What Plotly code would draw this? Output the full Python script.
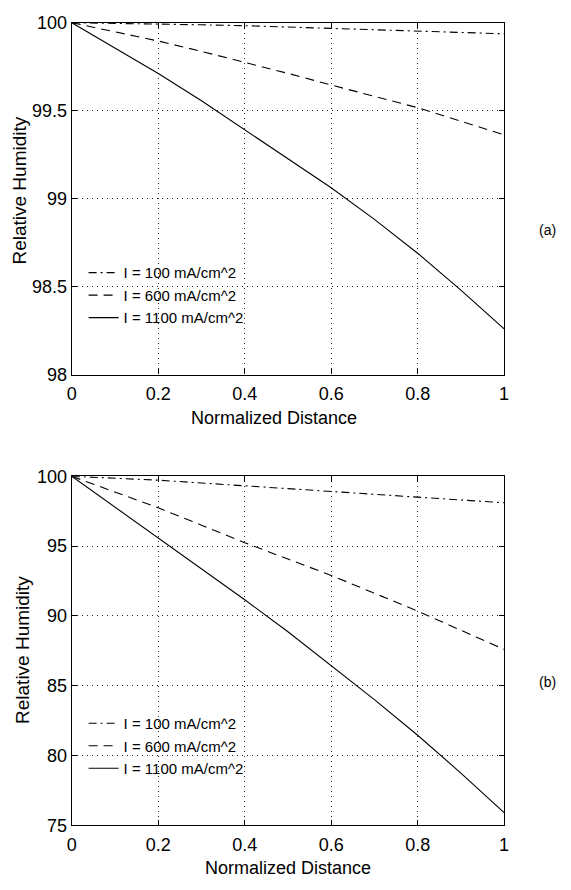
import plotly.graph_objects as go

# ---------------- data ----------------
distance = [0.0, 0.1, 0.2, 0.3, 0.4, 0.5, 0.6, 0.7, 0.8, 0.9, 1.0]
series_names = ["I = 100 mA/cm^2", "I = 600 mA/cm^2", "I = 1100 mA/cm^2"]

# panel (a)
rh_a_100 = [100.0, 99.997, 99.993, 99.988, 99.983, 99.975, 99.967, 99.959, 99.952, 99.944, 99.937]
rh_a_600 = [100.0, 99.950, 99.896, 99.837, 99.776, 99.712, 99.646, 99.582, 99.517, 99.440, 99.363]
rh_a_1100 = [100.0, 99.857, 99.711, 99.556, 99.393, 99.230, 99.062, 98.882, 98.690, 98.480, 98.260]

# panel (b)
rh_b_100 = [100.0, 99.87, 99.72, 99.52, 99.32, 99.11, 98.90, 98.69, 98.48, 98.29, 98.10]
rh_b_600 = [100.0, 98.88, 97.74, 96.50, 95.24, 94.07, 92.90, 91.62, 90.34, 88.97, 87.60]
rh_b_1100 = [100.0, 97.80, 95.59, 93.38, 91.15, 88.86, 86.45, 84.00, 81.45, 78.74, 75.90]

x_ticks = [0, 0.2, 0.4, 0.6, 0.8, 1.0]
y_ticks_a = [98, 98.5, 99, 99.5, 100]
y_ticks_b = [75, 80, 85, 90, 95, 100]

# ---------------- styles ----------------
W, H = 571, 890
FONT = "Liberation Sans Narrow, Arial Narrow, Liberation Sans, Arial, sans-serif"
dashes = ["8px,4px,2px,4px", "9px,6px", "solid"]

fig = go.Figure()

panels = [
    ("x", "y", "legend", [rh_a_100, rh_a_600, rh_a_1100]),
    ("x2", "y2", "legend2", [rh_b_100, rh_b_600, rh_b_1100]),
]
for xa, ya, lg, ser in panels:
    for name, vals, d in zip(series_names, ser, dashes):
        fig.add_trace(go.Scatter(
            x=distance, y=vals, mode="lines", name=name,
            xaxis=xa, yaxis=ya, legend=lg,
            line=dict(color="black", width=1.1, dash=d),
        ))

x_left, x_right = 68 / W, 508 / W
a_dom = [1 - 373 / H, 1 - 13 / H]
b_dom = [1 - 834 / H, 1 - 477 / H]

axis_common = dict(
    showline=True, linecolor="black", linewidth=1.3, mirror="ticks",
    ticks="inside", ticklen=5, tickcolor="black", tickwidth=1,
    showgrid=True, gridcolor="#222222", gridwidth=1, griddash="1px,4px",
    zeroline=False, tickfont=dict(family=FONT, size=18, color="black"),
)

legend_common = dict(xanchor="left", yanchor="top", bgcolor="rgba(0,0,0,0)",
                     borderwidth=0, tracegroupgap=0,
                     font=dict(family=FONT, size=15, color="black"))

fig.update_layout(
    width=W, height=H,
    margin=dict(l=0, r=0, t=0, b=0),
    paper_bgcolor="white", plot_bgcolor="white",
    xaxis=dict(domain=[x_left, x_right], range=[0, 1], anchor="y",
               tickvals=x_ticks, ticklabelstandoff=3, **axis_common),
    yaxis=dict(domain=a_dom, range=[98, 100], anchor="x",
               tickvals=y_ticks_a, **axis_common),
    xaxis2=dict(domain=[x_left, x_right], range=[0, 1], anchor="y2",
                tickvals=x_ticks, ticklabelstandoff=3, **axis_common),
    yaxis2=dict(domain=b_dom, range=[75, 100], anchor="x2",
                tickvals=y_ticks_b, **axis_common),
    legend=dict(x=80 / W, y=1 - 252 / H, **legend_common),
    legend2=dict(x=80 / W, y=1 - 713 / H, **legend_common),
    showlegend=True,
)

annots = [
    dict(text="Normalized Distance", x=274 / W, y=1 - 417 / H,
         font=dict(family=FONT, size=18, color="black")),
    dict(text="Normalized Distance", x=288 / W, y=1 - 878 / H,
         font=dict(family=FONT, size=18, color="black")),
    dict(text="Relative Humidity", x=15 / W, y=1 - 185 / H, textangle=-90,
         font=dict(family=FONT, size=19, color="black")),
    dict(text="Relative Humidity", x=18 / W, y=1 - 655 / H, textangle=-90,
         font=dict(family=FONT, size=19, color="black")),
    dict(text="(a)", x=552 / W, y=1 - 225 / H,
         font=dict(family=FONT, size=14, color="black")),
    dict(text="(b)", x=552 / W, y=1 - 687 / H,
         font=dict(family=FONT, size=14, color="black")),
]
for a in annots:
    fig.add_annotation(xref="paper", yref="paper", xanchor="center",
                       yanchor="middle", showarrow=False, **a)

fig.write_html("out.html", config={"displayModeBar": False},
               post_script="document.body.style.margin='0';document.body.style.overflow='hidden';")
